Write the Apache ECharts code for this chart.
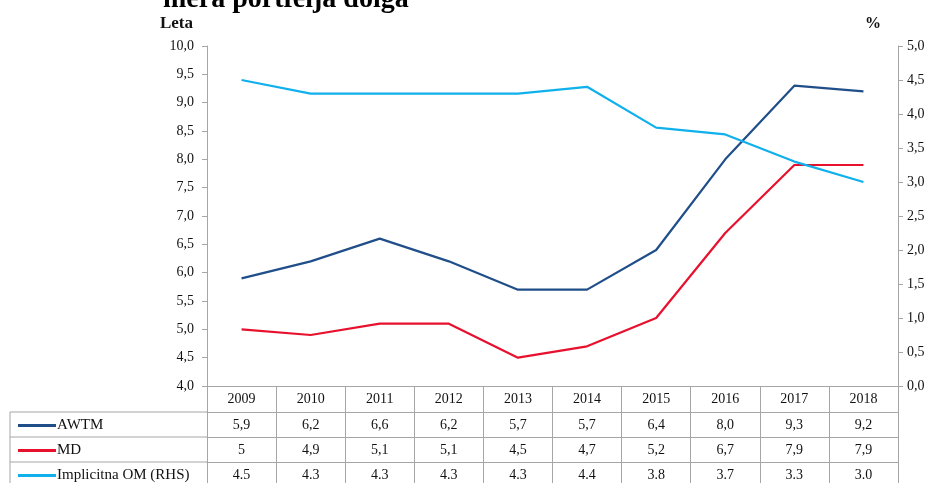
<!DOCTYPE html>
<html>
<head>
<meta charset="utf-8">
<script src="https://cdn.jsdelivr.net/npm/echarts@6/dist/echarts.min.js"></script>
<style>
  html, body { margin: 0; padding: 0; background: #fff; }
  #container { width: 934px; height: 483px; }
</style>
</head>
<body>
<div id="container"></div>
<script>
const years = ['2009', '2010', '2011', '2012', '2013', '2014', '2015', '2016', '2017', '2018'];
const awtm = [5.9, 6.2, 6.6, 6.2, 5.7, 5.7, 6.4, 8.0, 9.3, 9.2];
const md = [5, 4.9, 5.1, 5.1, 4.5, 4.7, 5.2, 6.7, 7.9, 7.9];
const implicitna = [4.5, 4.3, 4.3, 4.3, 4.3, 4.4, 3.8, 3.7, 3.3, 3.0];

const seriesNames = ['AWTM', 'MD', 'Implicitna OM (RHS)'];
const seriesColors = ['#1f4e89', '#e8112d', '#10b0ec'];

function draw_chart() {
    let dom = document.getElementById("container");
    let myChart = echarts.init(dom);

    const font = 'Liberation Serif';
    const gridColor = '#a6a6a6';

    // each table row is an extra x axis under the plot
    function rowAxis(offset, fmt) {
        return {
            type: 'category',
            data: years,
            position: 'bottom',
            offset: offset,
            axisLine: {lineStyle: {color: gridColor, width: 1}},
            axisTick: {show: true, interval: 0, length: 25, lineStyle: {color: gridColor}},
            axisLabel: {
                interval: 0,
                margin: 6,
                fontFamily: font,
                fontSize: 14,
                color: '#111',
                formatter: fmt
            },
            splitLine: {show: false}
        };
    }

    // one legend per table row, so they stack like the row labels
    function rowLegend(i) {
        return {
            data: [seriesNames[i]],
            orient: 'vertical',
            left: 13,
            top: 413 + i * 25,
            itemWidth: 38,
            itemHeight: 3,
            icon: 'rect',
            textStyle: {fontFamily: font, fontSize: 15, color: '#111', padding: [0, 0, 0, -4]}
        };
    }

    let commaFix = v => v.toFixed(1).replace('.', ',');

    let option = {
        animation: false,
        title: {
            text: 'mera portfelja dolga',
            left: 158,
            top: -19,
            textStyle: {fontFamily: font, fontSize: 28, fontWeight: 'bold', color: '#000'}
        },
        legend: [rowLegend(0), rowLegend(1), rowLegend(2)],
        grid: {left: 207, right: 36, top: 46, bottom: 97, containLabel: false},
        xAxis: [
            {
                type: 'category',
                data: years,
                axisLine: {lineStyle: {color: gridColor, width: 1}},
                axisTick: {show: true, interval: 0, length: 26, lineStyle: {color: gridColor}},
                axisLabel: {interval: 0, margin: 6, fontFamily: font, fontSize: 14, color: '#111'},
                splitLine: {show: false}
            },
            rowAxis(26, (v, i) => commaFix(awtm[i])),
            rowAxis(51, (v, i) => String(md[i]).replace('.', ',')),
            rowAxis(76, (v, i) => implicitna[i].toFixed(1))
        ],
        yAxis: [
            {
                type: 'value',
                min: 4,
                max: 10,
                interval: 0.5,
                name: 'Leta',
                nameLocation: 'end',
                nameGap: 14,
                nameTextStyle: {fontFamily: font, fontSize: 17, fontWeight: 'bold', color: '#111', align: 'right', padding: [0, 14, 0, 0]},
                axisLine: {show: true, lineStyle: {color: gridColor}},
                axisTick: {show: true, length: 5, lineStyle: {color: gridColor}},
                axisLabel: {margin: 13, fontFamily: font, fontSize: 14, color: '#111', formatter: commaFix},
                splitLine: {show: false}
            },
            {
                type: 'value',
                min: 0,
                max: 5,
                interval: 0.5,
                position: 'right',
                name: '%',
                nameLocation: 'end',
                nameGap: 14,
                nameTextStyle: {fontFamily: font, fontSize: 16, fontWeight: 'bold', color: '#111', align: 'right', padding: [0, 17, 0, 0]},
                axisLine: {show: true, lineStyle: {color: gridColor}},
                axisTick: {show: true, length: 5, lineStyle: {color: gridColor}},
                axisLabel: {margin: 9, fontFamily: font, fontSize: 14, color: '#111', formatter: commaFix},
                splitLine: {show: false}
            }
        ],
        graphic: [
            // left column frame of the data table
            {type: 'line', shape: {x1: 10, y1: 412, x2: 207, y2: 412}, style: {stroke: gridColor, lineWidth: 1}},
            {type: 'line', shape: {x1: 10, y1: 437, x2: 207, y2: 437}, style: {stroke: gridColor, lineWidth: 1}},
            {type: 'line', shape: {x1: 10, y1: 462, x2: 207, y2: 462}, style: {stroke: gridColor, lineWidth: 1}},
            {type: 'line', shape: {x1: 10, y1: 412, x2: 10, y2: 490}, style: {stroke: gridColor, lineWidth: 1}}
        ],
        series: [
            {
                name: seriesNames[0],
                type: 'line',
                yAxisIndex: 0,
                data: awtm,
                symbol: 'none',
                color: seriesColors[0],
                lineStyle: {width: 2.2, color: seriesColors[0]}
            },
            {
                name: seriesNames[1],
                type: 'line',
                yAxisIndex: 0,
                data: md,
                symbol: 'none',
                color: seriesColors[1],
                lineStyle: {width: 2.2, color: seriesColors[1]}
            },
            {
                name: seriesNames[2],
                type: 'line',
                yAxisIndex: 1,
                data: implicitna,
                symbol: 'none',
                color: seriesColors[2],
                lineStyle: {width: 2.2, color: seriesColors[2]}
            }
        ]
    };

    if (option && typeof option === "object") {
        myChart.setOption(option, true);
    }
}

draw_chart();
</script>
</body>
</html>
